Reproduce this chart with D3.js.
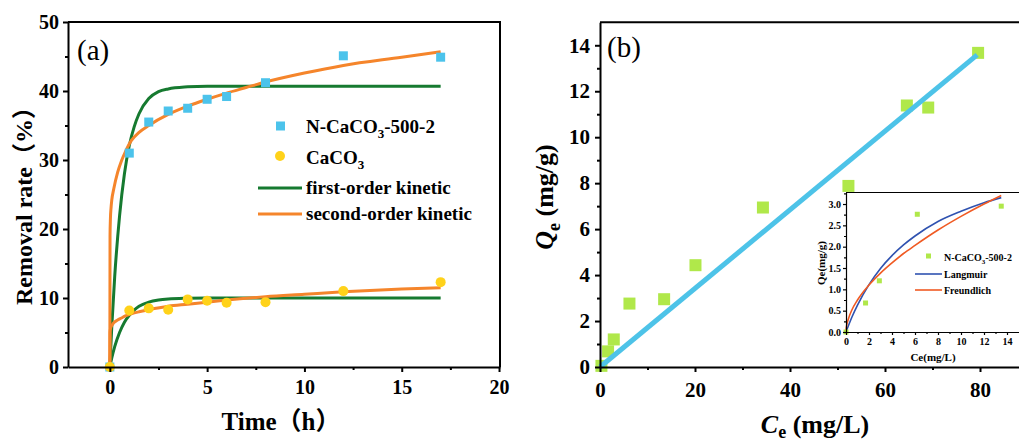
<!DOCTYPE html>
<html>
<head>
<meta charset="utf-8">
<script src="https://cdn.jsdelivr.net/npm/d3@7"></script>
<style>
  body { margin: 0; background: #fff; }
  svg { display: block; }
  svg text { font-family: "Liberation Serif", "Times New Roman", "Noto Sans CJK SC", serif !important; }
</style>
</head>
<body>
<svg width="1019" height="441"></svg>
<script>
// ---- panel (a): removal rate vs time ----
const timeH = [0, 1, 2, 3, 4, 5, 6, 8, 12, 17];
const removalN = [0, 31, 35.5, 37.1, 37.5, 38.8, 39.2, 41.2, 45.1, 44.9];
const removalCa = [0, 8.2, 8.5, 8.3, 9.8, 9.6, 9.3, 9.4, 11.0, 12.3];

// fitted curves
const fit1Time = [0, 0.1, 0.25, 0.5, 0.75, 1, 1.25, 1.5, 2, 2.5, 3, 4, 5, 6, 8, 12, 17];
const fit1N = [0, 5.85, 13.1, 21.9, 28.0, 32.1, 34.8, 36.7, 38.9, 39.9, 40.3, 40.6, 40.7, 40.7, 40.7, 40.7, 40.7];
const fit1Ca = [0, 1.3, 2.95, 5.0, 6.5, 7.5, 8.25, 8.8, 9.4, 9.7, 9.85, 9.96, 10, 10, 10, 10, 10];

const fit2Time = [0, 0.01, 0.03, 0.06, 0.1, 0.2, 0.4, 0.6, 0.8, 1.1, 1.5, 2, 3, 4, 5, 6, 7, 8, 10, 12, 15, 17];
const fit2N = [0, 19, 21.5, 23, 24.2, 25.8, 28.2, 29.9, 31.2, 32.8, 34, 35, 36.6, 37.8, 38.8, 39.7, 40.5, 41.3, 42.6, 43.7, 44.9, 45.7];
const fit2Ca = [0, 5.0, 5.5, 5.8, 6.0, 6.4, 6.8, 7.1, 7.4, 7.7, 8.0, 8.3, 8.8, 9.1, 9.4, 9.7, 9.95, 10.2, 10.55, 10.9, 11.3, 11.5];

const xTicksA = [0, 5, 10, 15, 20];
const yTicksA = [0, 10, 20, 30, 40, 50];

// ---- panel (b): isotherm ----
const ceData = [0.3, 1.7, 2.9, 6.2, 13.5, 20.1, 34.3, 52.3, 64.6, 69.1, 79.6];
const qeData = [0.05, 0.68, 1.2, 2.76, 2.95, 4.43, 6.94, 7.88, 11.38, 11.29, 13.67];
const lineCe = [0, 79.4];
const lineQe = [0, 13.58];
const xTicksB = [0, 20, 40, 60, 80];
const yTicksB = [0, 2, 4, 6, 8, 10, 12, 14];

// inset
const insetCe = [0, 1.7, 2.9, 6.2, 13.5];
const insetQe = [0, 0.68, 1.2, 2.76, 2.95];
const langCe = [0, 0.2, 0.5, 1, 2, 3, 4, 5, 6, 8, 10, 12, 13.5];
const langQe = [0, 0.14, 0.34, 0.63, 1.11, 1.49, 1.79, 2.04, 2.25, 2.59, 2.83, 3.03, 3.15];
const freCe = [0, 0.01, 0.05, 0.2, 0.5, 1, 2, 3, 4, 5, 6, 8, 10, 12, 13.5];
const freQe = [0, 0.06, 0.14, 0.30, 0.51, 0.75, 1.10, 1.38, 1.62, 1.84, 2.03, 2.39, 2.71, 3.0, 3.2];
const xTicksI = [0, 2, 4, 6, 8, 10, 12, 14];
const yTicksI = [0, 0.5, 1.0, 1.5, 2.0, 2.5, 3.0];

const FONT = '"Liberation Serif", "Times New Roman", "Noto Sans CJK SC", serif';
const svg = d3.select('svg');
svg.append('rect').attr('width', 1019).attr('height', 441).attr('fill', '#fff');

// helper: axis with major + minor ticks
function drawAxis(g, axisFn, scale, ticks, minor, opt) {
    const major = axisFn(scale).tickValues(ticks).tickSize(opt.size).tickSizeOuter(0)
        .tickPadding(opt.pad).tickFormat(opt.fmt || d3.format('d'));
    const a = g.append('g').attr('transform', opt.tr).call(major).attr('font-family', FONT);
    a.select('.domain').attr('stroke-width', opt.sw);
    a.selectAll('.tick line').attr('stroke-width', opt.sw);
    a.selectAll('.tick text').attr('font-size', opt.fs).attr('font-weight', 'bold')
        .attr('font-family', FONT).attr('fill', '#000');
    const m = g.append('g').attr('transform', opt.tr)
        .call(axisFn(scale).tickValues(minor).tickSize(opt.minor).tickSizeOuter(0).tickFormat(''));
    m.select('.domain').remove();
    m.selectAll('.tick line').attr('stroke-width', opt.sw);
    return a;
}

// ================= panel (a) =================
const xA = d3.scaleLinear().domain([-2.15, 20.05]).range([68, 500]);
const yA = d3.scaleLinear().domain([0, 50]).range([367, 22]);
const gA = svg.append('g').attr('font-family', FONT);

const line = (xs, ys) => d3.line().x(d => xs(d[0])).y(d => ys(d[1])).curve(d3.curveMonotoneX);
const zip = (a, b) => a.map((v, i) => [v, b[i]]);

const greenC = '#167a30', orangeC = '#f5852b', blueC = '#4cc3eb', yellowC = '#ffd21a';

[[fit1Time, fit1N, greenC], [fit1Time, fit1Ca, greenC], [fit2Time, fit2N, orangeC], [fit2Time, fit2Ca, orangeC]]
    .forEach(([t, v, c]) => {
        gA.append('path').attr('d', line(xA, yA)(zip(t, v)))
            .attr('fill', 'none').attr('stroke', c).attr('stroke-width', 3);
    });

gA.selectAll('rect.n').data(zip(timeH, removalN)).join('rect')
    .attr('x', d => xA(d[0]) - 4.5).attr('y', d => yA(d[1]) - 4.5)
    .attr('width', 9).attr('height', 9).attr('fill', blueC);
gA.selectAll('circle.ca').data(zip(timeH, removalCa)).join('circle')
    .attr('cx', d => xA(d[0])).attr('cy', d => yA(d[1])).attr('r', 5).attr('fill', yellowC);

drawAxis(gA, d3.axisBottom, xA, xTicksA, [2.5, 7.5, 12.5, 17.5], { tr: 'translate(0,367)', size: 5, minor: 3, pad: 8, sw: 2, fs: 20 });
drawAxis(gA, d3.axisLeft, yA, yTicksA, [5, 15, 25, 35, 45], { tr: 'translate(68,0)', size: 5, minor: 3, pad: 4, sw: 2, fs: 20 });
gA.append('path').attr('d', `M68,22H500V367`).attr('fill', 'none').attr('stroke', '#000').attr('stroke-width', 2);

gA.append('text').attr('x', 77).attr('y', 60).attr('font-size', 29).text('(a)');

gA.append('text').attr('x', 281).attr('y', 430).attr('text-anchor', 'middle')
    .attr('font-size', 25).attr('font-weight', 'bold').text('Time（h）');
gA.append('text').attr('transform', 'translate(32,200) rotate(-90)').attr('text-anchor', 'middle')
    .attr('font-size', 24).attr('font-weight', 'bold').text('Removal rate（%）');

// legend (a)
const legA = gA.append('g').attr('font-size', 19).attr('font-weight', 'bold');
legA.append('rect').attr('x', 276).attr('y', 121.5).attr('width', 9).attr('height', 9).attr('fill', blueC);
const tN = legA.append('text').attr('x', 306).attr('y', 133);
tN.append('tspan').text('N-CaCO');
tN.append('tspan').attr('font-size', 13).attr('dy', 5).text('3');
tN.append('tspan').attr('dy', -5).text('-500-2');
legA.append('circle').attr('cx', 280).attr('cy', 156).attr('r', 5).attr('fill', yellowC);
const tC = legA.append('text').attr('x', 306).attr('y', 164);
tC.append('tspan').text('CaCO');
tC.append('tspan').attr('font-size', 13).attr('dy', 5).text('3');
legA.append('line').attr('x1', 258).attr('x2', 302).attr('y1', 188).attr('y2', 188).attr('stroke', greenC).attr('stroke-width', 3);
legA.append('text').attr('x', 306).attr('y', 194).text('first-order kinetic');
legA.append('line').attr('x1', 258).attr('x2', 302).attr('y1', 214).attr('y2', 214).attr('stroke', orangeC).attr('stroke-width', 3);
legA.append('text').attr('x', 306).attr('y', 220).text('second-order kinetic');

// ================= panel (b) =================
const xB = d3.scaleLinear().domain([0, 90]).range([600, 1027.5]);
const yB = d3.scaleLinear().domain([0, 15]).range([367, 22.3]);
const gB = svg.append('g').attr('font-family', FONT);
const limeC = '#b0e84a', skyC = '#4dc3e8';

gB.selectAll('rect.q').data(zip(ceData, qeData)).join('rect')
    .attr('x', d => xB(d[0]) - 6).attr('y', d => yB(d[1]) - 6)
    .attr('width', 12).attr('height', 12).attr('fill', limeC);
gB.append('path').attr('d', d3.line().x(d => xB(d[0])).y(d => yB(d[1]))(zip(lineCe, lineQe)))
    .attr('stroke', skyC).attr('stroke-width', 5).attr('fill', 'none');

drawAxis(gB, d3.axisBottom, xB, xTicksB, [10, 30, 50, 70], { tr: 'translate(0,367)', size: 5, minor: 3, pad: 10, sw: 2, fs: 21 });
drawAxis(gB, d3.axisLeft, yB, yTicksB, [1, 3, 5, 7, 9, 11, 13], { tr: 'translate(600,0)', size: 5, minor: 3, pad: 5, sw: 2, fs: 21 });
gB.append('path').attr('d', `M600,22.3H1019`).attr('fill', 'none').attr('stroke', '#000').attr('stroke-width', 2);

gB.append('text').attr('x', 607).attr('y', 57).attr('font-size', 29).text('(b)');

const xtB = gB.append('text').attr('x', 815).attr('y', 433).attr('text-anchor', 'middle')
    .attr('font-size', 26).attr('font-weight', 'bold');
xtB.append('tspan').attr('font-style', 'italic').text('C');
xtB.append('tspan').attr('font-size', 18).attr('dy', 5).text('e');
xtB.append('tspan').attr('dy', -5).text(' (mg/L)');

const ytB = gB.append('text').attr('transform', 'translate(553,197) rotate(-90)').attr('text-anchor', 'middle')
    .attr('font-size', 26).attr('font-weight', 'bold');
ytB.append('tspan').attr('font-style', 'italic').text('Q');
ytB.append('tspan').attr('font-size', 18).attr('dy', 7).text('e');
ytB.append('tspan').attr('dy', -7).text(' (mg/g)');

// ---- inset ----
const xI = d3.scaleLinear().domain([0, 15]).range([846, 1018.5]);
const yI = d3.scaleLinear().domain([0, 3.27]).range([332, 192.5]);
const gI = svg.append('g').attr('font-family', FONT);
gI.append('rect').attr('x', 846).attr('y', 192.5).attr('width', 175).attr('height', 139.5).attr('fill', '#fff');

const blueL = '#2f52b0', redF = '#f05a23';
gI.append('path').attr('d', line(xI, yI)(zip(langCe, langQe))).attr('fill', 'none').attr('stroke', blueL).attr('stroke-width', 1.6);
gI.append('path').attr('d', line(xI, yI)(zip(freCe, freQe))).attr('fill', 'none').attr('stroke', redF).attr('stroke-width', 1.6);
gI.selectAll('rect.p').data(zip(insetCe, insetQe)).join('rect')
    .attr('x', d => xI(d[0]) - 2.5).attr('y', d => yI(d[1]) - 2.5)
    .attr('width', 5).attr('height', 5).attr('fill', limeC);

drawAxis(gI, d3.axisBottom, xI, xTicksI, [1, 3, 5, 7, 9, 11, 13], { tr: 'translate(0,332)', size: 3, minor: 2, pad: 3, sw: 1.2, fs: 10 });
drawAxis(gI, d3.axisLeft, yI, yTicksI, [0.25, 0.75, 1.25, 1.75, 2.25, 2.75, 3.25], { tr: 'translate(846,0)', size: 3, minor: 2, pad: 2, sw: 1.2, fs: 10, fmt: d3.format('.1f') });
gI.append('path').attr('d', 'M846,192.5H1019').attr('fill', 'none').attr('stroke', '#000').attr('stroke-width', 1.2);

gI.append('text').attr('x', 933).attr('y', 361).attr('text-anchor', 'middle')
    .attr('font-size', 11).attr('font-weight', 'bold').text('Ce(mg/L)');
gI.append('text').attr('transform', 'translate(825,263) rotate(-90)').attr('text-anchor', 'middle')
    .attr('font-size', 11).attr('font-weight', 'bold').text('Qe(mg/g)');

const legI = gI.append('g').attr('font-size', 10).attr('font-weight', 'bold');
legI.append('rect').attr('x', 926).attr('y', 253.5).attr('width', 5).attr('height', 5).attr('fill', limeC);
const tI = legI.append('text').attr('x', 944).attr('y', 261);
tI.append('tspan').text('N-CaCO');
tI.append('tspan').attr('font-size', 7).attr('dy', 3).text('3');
tI.append('tspan').attr('dy', -3).text('-500-2');
legI.append('line').attr('x1', 915).attr('x2', 942).attr('y1', 274).attr('y2', 274).attr('stroke', blueL).attr('stroke-width', 1.6);
legI.append('text').attr('x', 944).attr('y', 278).text('Langmuir');
legI.append('line').attr('x1', 915).attr('x2', 942).attr('y1', 290).attr('y2', 290).attr('stroke', redF).attr('stroke-width', 1.6);
legI.append('text').attr('x', 944).attr('y', 294).text('Freundlich');
</script>
</body>
</html>
